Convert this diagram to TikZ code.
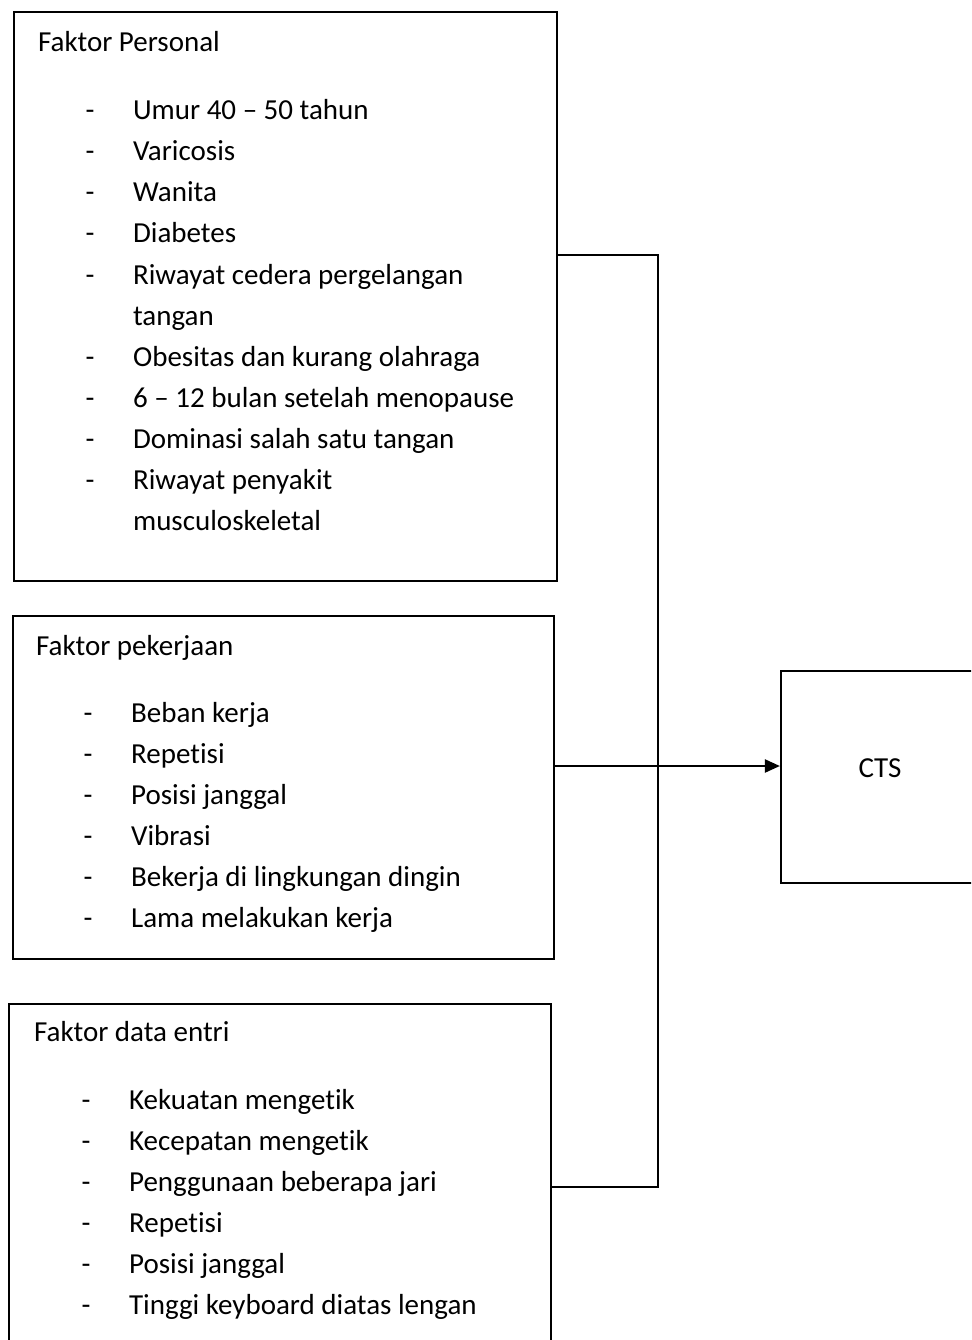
\documentclass[tikz,border=0pt]{standalone}
\usepackage{fontspec}
\setmainfont{Carlito}[Ligatures={NoCommon}]
\usepackage{tikz}
\usetikzlibrary{arrows.meta,positioning,calc}

\begin{document}
\begin{tikzpicture}[x=1pt, y=-1pt, line width=2.2pt, >={Triangle[length=15pt,width=13pt]},
  font=\fontsize{29}{41}\selectfont]
\tikzstyle{box}=[draw=black, rectangle, anchor=north west, inner sep=0pt]
\tikzstyle{item}=[anchor=base west, inner sep=0pt]
\tikzstyle{bullet}=[anchor=base, inner sep=0pt]
\clip (0,0) rectangle (971,1340);

% kotak faktor
\node[box, minimum width=543, minimum height=569] (personal)  at (13,11)   {};
\node[box, minimum width=541, minimum height=343] (pekerjaan) at (12,615)  {};
\node[box, minimum width=542, minimum height=345] (entri)     at (8,1003)  {};
\node[box, anchor=center, minimum width=198, minimum height=212] (cts) at (880,777) {};
\node[bullet] (ctslabel) at (cts.center) {CTS};

% faktor personal
\node[item] (ptitle) at (37,52) {Faktor Personal};
\foreach \t [count=\k from 0] in {Umur 40 – 50 tahun, Varicosis, Wanita, Diabetes,
  Riwayat cedera pergelangan, tangan, Obesitas dan kurang olahraga,
  6 – 12 bulan setelah menopause, Dominasi salah satu tangan, Riwayat penyakit, musculoskeletal}
  \node[item] (p\k) at (132,{120+41*\k}) {\t};
\foreach \k in {0,1,2,3,4,6,7,8,9}
  \node[bullet] (pd\k) at (90,{120+41*\k}) {-};

% faktor pekerjaan
\node[item] (ktitle) at (35,655) {Faktor pekerjaan};
\foreach \t [count=\k from 0] in {Beban kerja, Repetisi, Posisi janggal, Vibrasi,
  Bekerja di lingkungan dingin, Lama melakukan kerja}{
  \node[item] (k\k) at (130,{722+41*\k}) {\t};
  \node[bullet] (kd\k) at (88,{722+41*\k}) {-};
}

% faktor data entri
\node[item] (etitle) at (33,1041) {Faktor data entri};
\foreach \t [count=\k from 0] in {Kekuatan mengetik, Kecepatan mengetik,
  Penggunaan beberapa jari, Repetisi, Posisi janggal, Tinggi keyboard diatas lengan}{
  \node[item] (e\k) at (128,{1109+41*\k}) {\t};
  \node[bullet] (ed\k) at (86,{1109+41*\k}) {-};
}

% penghubung
\coordinate (bus) at (658,766);
\draw (personal.east |- 0,255) -| (bus) |- (entri.east |- 0,1187);
\draw[->] (pekerjaan.east |- bus) -- (cts.west |- bus);
\end{tikzpicture}
\end{document}
